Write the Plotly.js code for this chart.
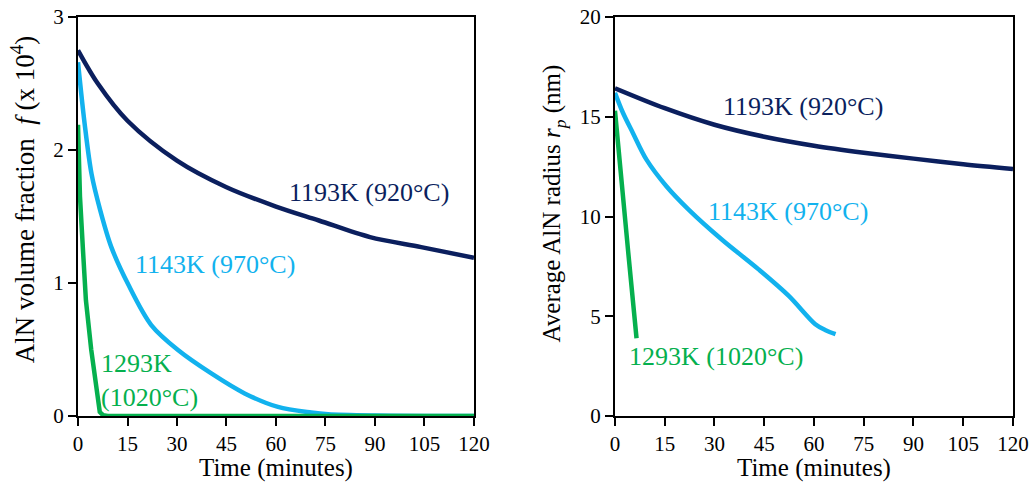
<!DOCTYPE html>
<html><head><meta charset="utf-8">
<script src="https://cdn.plot.ly/plotly-3.0.1.min.js"></script>
<style>html,body{margin:0;padding:0;background:#fff}#chart{width:1032px;height:482px}</style>
</head><body><div id="chart"></div>
<script>
// Left panel: AlN volume fraction f (x 10^4)
const f1193_t = [0, 6, 15, 30, 45, 60, 73, 88.5, 104, 120];
const f1193_v = [2.75, 2.5, 2.22, 1.92, 1.72, 1.575, 1.47, 1.345, 1.27, 1.19];
const f1143_t = [0, 2, 4.1, 6.7, 10.1, 15.2, 22.2, 30.3, 40.4, 50.5, 60.6, 70.7, 75.8, 90, 120];
const f1143_v = [2.66, 2.2, 1.82, 1.55, 1.27, 0.99, 0.684, 0.496, 0.32, 0.17, 0.068, 0.026, 0.013, 0.004, 0.0];
const f1293_t = [0, 0.6, 1.5, 2.4, 4.0, 5.6, 6.6, 7.6, 9, 120];
const f1293_v = [2.19, 1.65, 1.25, 0.87, 0.5, 0.17, 0.03, 0.006, 0.0, 0.0];

// Right panel: average AlN radius r_p (nm)
const r1193_t = [0, 15, 30, 45, 60, 75, 90, 105, 120];
const r1193_v = [16.43, 15.43, 14.6, 14.0, 13.55, 13.2, 12.9, 12.62, 12.38];
const r1143_t = [0, 2.4, 5.4, 9.5, 15.5, 22.2, 32.2, 43.3, 52.4, 60.4, 63.5, 66.5];
const r1143_v = [16.2, 15.2, 14.19, 12.85, 11.52, 10.35, 8.85, 7.35, 6.02, 4.6, 4.3, 4.1];
const r1293_t = [0, 1.5, 4.0, 6.5];
const r1293_v = [15.3, 12.5, 8.2, 3.9];

const xTicks = [0, 15, 30, 45, 60, 75, 90, 105, 120];
const labels = ["1193K (920°C)", "1143K (970°C)", "1293K<br>(1020°C)", "1293K (1020°C)"];
const yTitles = ["AlN volume fraction  <i>f</i> (x 10<sup>4</sup>)", "Average AlN radius <i>r<sub>p</sub></i> (nm)"];

const C_NAVY = "#0b1f5e", C_BLUE = "#12b2ee", C_GREEN = "#05b04e";
const FONT = "Liberation Serif";

const line = (c, s) => s ? {color: c, width: 4.5, shape: "spline", smoothing: 0.9} : {color: c, width: 4.5};
const data = [
  {x: f1193_t, y: f1193_v, mode: "lines", line: line(C_NAVY, true), xaxis: "x", yaxis: "y"},
  {x: f1143_t, y: f1143_v, mode: "lines", line: line(C_BLUE, true), xaxis: "x", yaxis: "y"},
  {x: f1293_t, y: f1293_v, mode: "lines", line: line(C_GREEN, false), xaxis: "x", yaxis: "y"},
  {x: r1193_t, y: r1193_v, mode: "lines", line: line(C_NAVY, true), xaxis: "x2", yaxis: "y2"},
  {x: r1143_t, y: r1143_v, mode: "lines", line: line(C_BLUE, true), xaxis: "x2", yaxis: "y2"},
  {x: r1293_t, y: r1293_v, mode: "lines", line: line(C_GREEN, false), xaxis: "x2", yaxis: "y2"}
];

const axBase = {
  showgrid: false, zeroline: false, showline: true, linecolor: "#000", linewidth: 2,
  mirror: true, ticks: "outside", ticklen: 8, tickwidth: 2, tickcolor: "#000",
  tickfont: {family: FONT, size: 21, color: "#000"}
};
const xTitle = {text: "Time (minutes)", font: {family: FONT, size: 25, color: "#000"}, standoff: 2};

const layout = {
  width: 1032, height: 482,
  margin: {l: 78, r: 19, t: 17, b: 66},
  paper_bgcolor: "#fff", plot_bgcolor: "#fff",
  showlegend: false,
  font: {family: FONT},
  xaxis: Object.assign({}, axBase, {domain: [0, 0.4235], range: [0, 120], tickvals: xTicks, title: xTitle}),
  yaxis: Object.assign({}, axBase, {range: [0, 3], dtick: 1}),
  xaxis2: Object.assign({}, axBase, {domain: [0.5743, 1], range: [0, 120], tickvals: xTicks, anchor: "y2", title: xTitle}),
  yaxis2: Object.assign({}, axBase, {range: [0, 20], dtick: 5, anchor: "x2"}),
  annotations: [
    {x: -0.0588, y: 0.541, xref: "paper", yref: "paper", xanchor: "center", yanchor: "middle", text: yTitles[0], textangle: -90, showarrow: false, font: {family: FONT, size: 27, color: "#000"}},
    {x: 0.509, y: 0.5326, xref: "paper", yref: "paper", xanchor: "center", yanchor: "middle", text: yTitles[1], textangle: -90, showarrow: false, font: {family: FONT, size: 25, color: "#000"}},
    {x: 88.2, y: 1.68, xref: "x", yref: "y", text: labels[0], showarrow: false, font: {family: FONT, size: 26, color: C_NAVY}},
    {x: 41.4, y: 1.14, xref: "x", yref: "y", text: labels[1], showarrow: false, font: {family: FONT, size: 26, color: C_BLUE}},
    {x: 6.5, y: 0.27, xref: "x", yref: "y", text: labels[2], showarrow: false, xanchor: "left", align: "left", font: {family: FONT, size: 26, color: C_GREEN}},
    {x: 56.7, y: 15.5, xref: "x2", yref: "y2", text: labels[0], showarrow: false, font: {family: FONT, size: 26, color: C_NAVY}},
    {x: 52.1, y: 10.25, xref: "x2", yref: "y2", text: labels[1], showarrow: false, font: {family: FONT, size: 26, color: C_BLUE}},
    {x: 30.4, y: 3.0, xref: "x2", yref: "y2", text: labels[3], showarrow: false, font: {family: FONT, size: 26, color: C_GREEN}}
  ]
};
Plotly.newPlot("chart", data, layout, {displayModeBar: false, staticPlot: true});
</script></body></html>
